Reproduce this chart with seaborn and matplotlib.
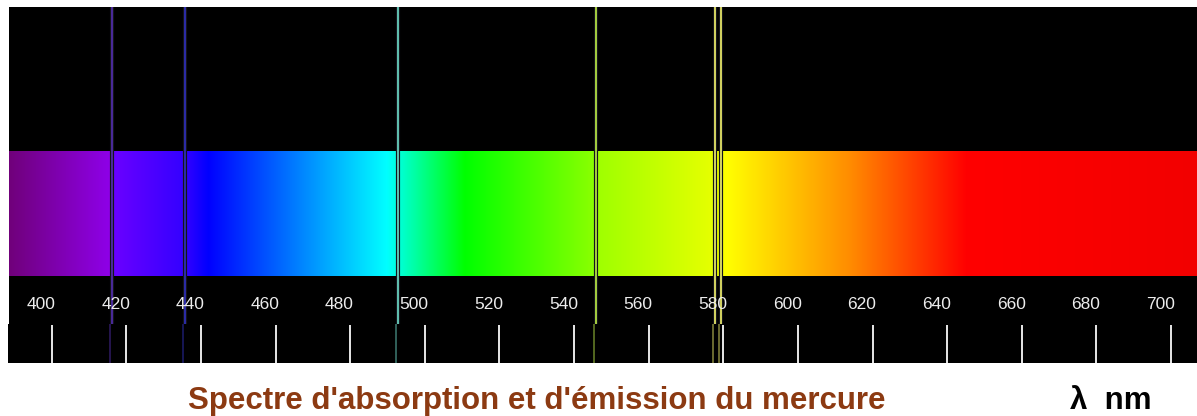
import numpy as np
import matplotlib
matplotlib.use('Agg')
import matplotlib.pyplot as plt
import seaborn as sns

# 数据: 汞的发射谱线 (nm) 与刻度
line_nm = [415.6, 435.3, 492.2, 545.3, 577.2, 578.9]
line_name = ['violet', 'bleu', 'cyan', 'vert', 'jaune 1', 'jaune 2']
line_color = ['#4b2a9c', '#2c2ca8', '#62c2b2', '#a6d040', '#d6d662', '#d6d662']
tick_nm = [400, 420, 440, 460, 480, 500, 520, 540, 560, 580, 600, 620, 640, 660, 680, 700]
tick_text = [str(t) for t in tick_nm]

# 光谱渐变色标 (nm, 颜色)
grad_nm = [388.0, 415.5, 415.6, 435.2, 441.4, 489.3, 510.2, 545.4, 545.5, 577.5, 580.4, 613.4, 644.8, 706.5]
grad_rgb = [(0.44, 0.0, 0.48), (0.56, 0.0, 0.92), (0.42, 0.0, 1.0), (0.20, 0.0, 1.0),
            (0.0, 0.0, 1.0), (0.0, 1.0, 1.0), (0.0, 1.0, 0.0), (0.55, 1.0, 0.0),
            (0.62, 1.0, 0.0), (0.91, 1.0, 0.0), (1.0, 1.0, 0.0), (1.0, 0.55, 0.0),
            (1.0, 0.0, 0.0), (0.95, 0.0, 0.0)]

title = "Spectre d'absorption et d'émission du mercure"
unit = "λ  nm"

sns.set_style('white')
plt.rcParams['font.family'] = ['Liberation Sans', 'DejaVu Sans']

W, H = 1197, 416
PX = 3.731  # 每 nm 像素


def nm_at(px, ref):
    return 400 + (px - ref) / PX


def box(x0, y0, x1, y1):
    return [x0 / W, 1 - y1 / H, (x1 - x0) / W, (y1 - y0) / H]


fig = plt.figure(figsize=(W / 100, H / 100), dpi=100)

# 上部: 黑色发射区 + 彩色光谱 + 数字
ax_top = fig.add_axes(box(9, 7, 1197, 324))
ax_top.set_facecolor('black')
ax_top.set_xlim(nm_at(9, 53.7), nm_at(1197, 53.7))
ax_top.set_ylim(324, 7)

xs = np.linspace(388, 707, 1400)
img = np.stack([np.interp(xs, grad_nm, [c[i] for c in grad_rgb]) for i in range(3)], axis=-1)
ax_top.imshow(img[np.newaxis, :, :], extent=(xs[0], xs[-1], 276, 151), aspect='auto',
              interpolation='bilinear')

sns.rugplot(x=line_nm, height=1, color='#15151c', linewidth=3, ax=ax_top)
sns.rugplot(x=line_nm, hue=line_name, palette=dict(zip(line_name, line_color)),
            height=1, linewidth=1.4, legend=False, ax=ax_top)

for t, lab in zip(tick_nm, tick_text):
    ax_top.text(t - 3.4, 304, lab, color='#ececec', ha='center', va='center',
                fontsize=12.5)

# 下部: 刻度线
ax_tick = fig.add_axes(box(8, 324, 1197, 363))
ax_tick.set_facecolor('black')
ax_tick.set_xlim(nm_at(8, 51.7), nm_at(1197, 51.7))
ax_tick.set_ylim(0, 1)
sns.rugplot(x=tick_nm, height=0.97, color='#e8e8e8', linewidth=1.4, ax=ax_tick)
sns.rugplot(x=line_nm, hue=line_name, palette=dict(zip(line_name, line_color)),
            height=1, linewidth=1.4, alpha=0.5, legend=False, ax=ax_tick)

for ax in (ax_top, ax_tick):
    ax.set_xticks([])
    ax.set_yticks([])
    for s in ax.spines.values():
        s.set_visible(False)

fig.text(537 / W, 1 - 409 / H, title, color='#8c3a12', fontsize=22.5, fontweight='bold',
         ha='center', va='baseline')
fig.text(1070 / W, 1 - 409 / H, unit, color='black', fontsize=22.5, fontweight='bold',
         ha='left', va='baseline')

fig.savefig('out.png', dpi=100, facecolor='white')
